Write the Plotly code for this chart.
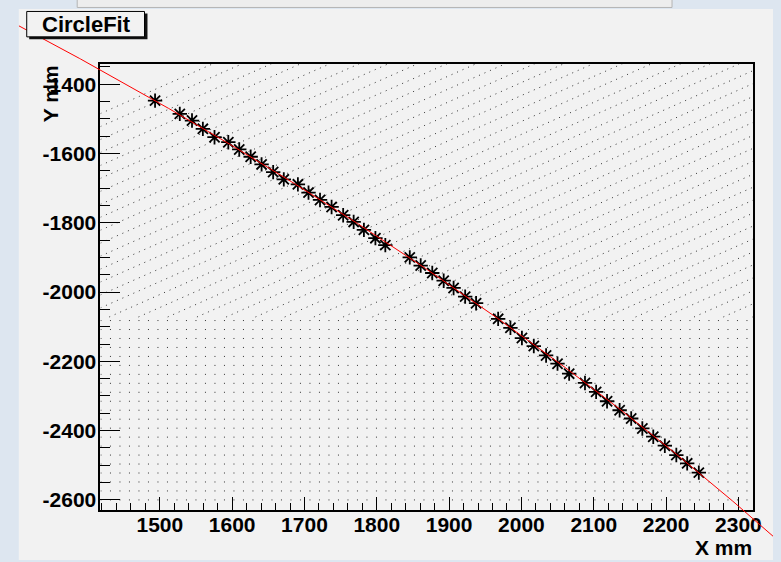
import numpy as np
import plotly.graph_objects as go

# ---------------- data ----------------
x_mm = [1493.4, 1527.6, 1544.5, 1559.5, 1575.6, 1594.7, 1609.8, 1625.6, 1640.7, 1656.7,
        1671.4, 1690.9, 1705.6, 1721.5, 1737.5, 1753.5, 1768.0, 1782.2, 1798.1, 1811.8,
        1845.6, 1860.7, 1876.7, 1892.5, 1906.2, 1922.2, 1937.3, 1967.8, 1984.8, 2000.7,
        2017.1, 2034.1, 2049.9, 2066.0, 2087.9, 2103.3, 2118.4, 2135.8, 2151.8, 2167.2,
        2182.3, 2198.3, 2214.2, 2229.2, 2245.3]
y_mm = [-1447.6, -1485.8, -1505.1, -1529.0, -1553.1, -1567.5, -1588.5, -1609.5, -1631.6, -1653.8,
        -1674.8, -1689.2, -1713.0, -1734.3, -1754.4, -1778.3, -1797.6, -1820.6, -1844.5, -1864.6,
        -1900.0, -1923.6, -1945.1, -1967.3, -1988.3, -2013.3, -2032.3, -2077.4, -2103.3, -2132.9,
        -2155.9, -2183.0, -2206.8, -2235.6, -2262.4, -2288.2, -2315.3, -2341.2, -2365.0, -2393.8,
        -2417.6, -2443.5, -2470.6, -2494.5, -2521.2]

# circle-fit result (centre and radius, mm)
fit_xc = -4265.7
fit_yc = -6281.2
fit_r = 7518.7

x_ticks = [1500, 1600, 1700, 1800, 1900, 2000, 2100, 2200, 2300]
x_tick_labels = ["1500", "1600", "1700", "1800", "1900", "2000", "2100", "2200", "2300"]
y_ticks = [-2600, -2400, -2200, -2000, -1800, -1600, -1400]
y_tick_labels = ["-2600", "-2400", "-2200", "-2000", "-1800", "-1600", "-1400"]

title_text = "CircleFit"
x_title = "X mm"
y_title = "Y mm"

# ---------------- geometry / style ----------------
W, H = 781, 562
X_RANGE = [1417.9, 2320.5]
Y_RANGE = [-2628.2, -1341.2]
FR_L, FR_R, FR_T, FR_B = 101.5, 761.0, 64.0, 511.5   # frame, px
CV_L, CV_T = 19.0, 9.0                               # canvas origin, px

BLUE = "#dde6f0"
GREY = "#f2f2f2"
FONT = "Liberation Sans"
CLEAR = "rgba(0,0,0,0)"

kx = (FR_R - FR_L) / (X_RANGE[1] - X_RANGE[0])
ky = (FR_B - FR_T) / (Y_RANGE[1] - Y_RANGE[0])


def px(xp):
    return xp / W


def py(yp):
    return 1 - yp / H


# overlay axes spanning the whole canvas, same scale as the frame axes
X2_RANGE = [X_RANGE[0] - (FR_L - CV_L) / kx, X_RANGE[1] + (W - FR_R) / kx]
Y2_RANGE = [Y_RANGE[0] - (H - FR_B) / ky, Y_RANGE[1] + (FR_T - CV_T) / ky]

fig = go.Figure()

# ---------------- hatch pattern (decoration) ----------------
HATCH_SPLIT = -2072.0
row_step = 9.0 / ky
hx, hy = [], []
yr = -2600.0
while yr < HATCH_SPLIT:
    hx += [X_RANGE[0], X_RANGE[1], None]
    hy += [yr, yr, None]
    yr += row_step
fig.add_trace(go.Scatter(x=hx, y=hy, mode="lines", hoverinfo="skip",
                         line=dict(color="#333333", width=1, dash="1px,8.5px"),
                         showlegend=False))

slope_px = 0.44
m = slope_px * kx / ky
diag_step = 13.0 / ky
y0 = Y_RANGE[1] - (114.0 - FR_T) / ky
dx, dy = [], []
while True:
    y_at_right = y0 + m * (X_RANGE[1] - X_RANGE[0])
    if y_at_right < HATCH_SPLIT:
        break
    xs = X_RANGE[0]
    ys = y0
    if y0 < HATCH_SPLIT:
        xs = X_RANGE[0] + (HATCH_SPLIT - y0) / m
        ys = HATCH_SPLIT
    dx += [xs, X_RANGE[1], None]
    dy += [ys, y_at_right, None]
    y0 -= diag_step
fig.add_trace(go.Scatter(x=dx, y=dy, mode="lines", hoverinfo="skip",
                         line=dict(color="#333333", width=1, dash="1px,5px"),
                         showlegend=False))

# ---------------- data points ----------------
fig.add_trace(go.Scatter(x=x_mm, y=y_mm, mode="markers", showlegend=False,
                         marker=dict(symbol="asterisk-open", size=12, color="black",
                                     line=dict(color="black", width=1.8))))

# ---------------- fitted circle (drawn over whole canvas) ----------------
xc = np.linspace(X2_RANGE[0], X2_RANGE[1], 600)
yc = fit_yc + np.sqrt(fit_r ** 2 - (xc - fit_xc) ** 2)
fig.add_trace(go.Scatter(x=xc, y=yc, mode="lines", xaxis="x2", yaxis="y2",
                         line=dict(color="#ff0000", width=1), showlegend=False,
                         hoverinfo="skip"))

tickfont = dict(family=FONT, size=21, color="black", weight="bold")

fig.update_layout(
    width=W, height=H,
    margin=dict(l=0, r=0, t=0, b=0),
    paper_bgcolor=BLUE,
    plot_bgcolor=CLEAR,
    showlegend=False,
    xaxis=dict(domain=[px(FR_L), px(FR_R)], range=X_RANGE, anchor="y",
               showline=True, linecolor="black", linewidth=2, mirror=True,
               ticks="inside", ticklen=13, tickwidth=1, tickcolor="black",
               tickmode="array", tickvals=x_ticks, ticktext=x_tick_labels,
               tickfont=tickfont, showgrid=False, zeroline=False,
               ticklabelstandoff=-5,
               minor=dict(tickmode="linear", tick0=1500, dtick=20, ticks="inside",
                          ticklen=7, tickwidth=1, tickcolor="black", showgrid=False)),
    yaxis=dict(domain=[py(FR_B), py(FR_T)], range=Y_RANGE, anchor="x",
               showline=True, linecolor="black", linewidth=2, mirror=True,
               ticks="inside", ticklen=20, tickwidth=1, tickcolor="black",
               tickmode="array", tickvals=y_ticks, ticktext=y_tick_labels,
               tickfont=tickfont, showgrid=False, zeroline=False,
               ticklabelstandoff=-2,
               minor=dict(tickmode="linear", tick0=-2600, dtick=50, ticks="inside",
                          ticklen=10, tickwidth=1, tickcolor="black", showgrid=False)),
    xaxis2=dict(domain=[px(CV_L), 1.0], range=X2_RANGE, anchor="y2", visible=False,
                showgrid=False, zeroline=False),
    yaxis2=dict(domain=[0.0, py(CV_T)], range=Y2_RANGE, anchor="x2", visible=False,
                showgrid=False, zeroline=False),
    shapes=[
        dict(type="rect", xref="paper", yref="paper", layer="below",
             x0=px(CV_L), x1=1.0, y0=0.0, y1=py(CV_T),
             fillcolor=GREY, line=dict(width=0)),
        dict(type="rect", xref="paper", yref="paper", layer="above",
             x0=px(78), x1=px(679), y0=py(7.5), y1=py(-2),
             fillcolor="#ededed", line=dict(color="#b4b4b4", width=1)),
        dict(type="rect", xref="paper", yref="paper", layer="above",
             x0=px(29.5), x1=px(149), y0=py(39.5), y1=py(13.5),
             fillcolor="#111111", line=dict(width=0)),
        dict(type="rect", xref="paper", yref="paper", layer="above",
             x0=px(27), x1=px(146), y0=py(37), y1=py(11.5),
             fillcolor=GREY, line=dict(color="black", width=1)),
    ],
    annotations=[
        dict(text=title_text, xref="paper", yref="paper", x=px(87), y=py(25),
             xanchor="center", yanchor="middle", showarrow=False,
             font=dict(family=FONT, size=22, color="black", weight="bold")),
        dict(text=x_title, xref="paper", yref="paper", x=px(762), y=py(549),
             xanchor="right", yanchor="middle", showarrow=False,
             font=dict(family=FONT, size=21, color="black", weight="bold")),
        dict(text=y_title, xref="paper", yref="paper", x=px(50.5), y=py(93.5),
             xanchor="center", yanchor="middle", showarrow=False, textangle=-90,
             font=dict(family=FONT, size=21, color="black", weight="bold")),
    ],
)

fig.write_html("out.html")
